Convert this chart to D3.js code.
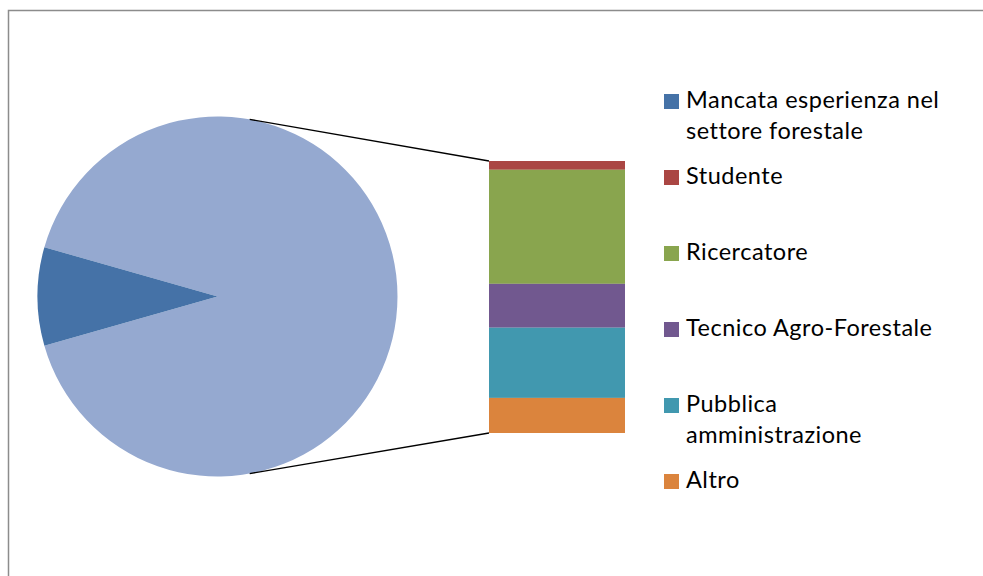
<!DOCTYPE html>
<html>
<head>
<meta charset="utf-8">
<script src="https://cdn.jsdelivr.net/npm/d3@7/dist/d3.min.js"></script>
<style>
  html, body { margin: 0; padding: 0; background: #fff; }
  svg { display: block; }
</style>
</head>
<body>
<svg id="chart" width="983" height="576"></svg>
<script>
// Pie slice shown on its own
const mainCategory = "Mancata esperienza nel settore forestale";
const mainValue = 3;

// Categories grouped into the secondary stacked bar (top to bottom)
const barCategories = ["Studente", "Ricercatore", "Tecnico Agro-Forestale", "Pubblica amministrazione", "Altro"];
const barValues = [1, 13, 5, 8, 4];

// Legend lines (wrapped as drawn)
const legendLines = [
  ["Mancata esperienza nel", "settore forestale"],
  ["Studente"],
  ["Ricercatore"],
  ["Tecnico Agro-Forestale"],
  ["Pubblica", "amministrazione"],
  ["Altro"]
];

const mainColor = "#4572A7";
const groupColor = "#95A9D0";
const barColors = ["#AA4643", "#89A54E", "#71588F", "#4198AF", "#DB843D"];

const svg = d3.select("#chart");

// Chart area border (only top and left edges fall inside the view)
svg.append("rect")
  .attr("x", 8.5).attr("y", 10.5)
  .attr("width", 1200).attr("height", 1000)
  .attr("fill", "none")
  .attr("stroke", "#8c8c8c")
  .attr("stroke-width", 1.5);

// ---- Pie ----
const cx = 217.5, cy = 296.5, r = 180;
const groupTotal = d3.sum(barValues);
const total = groupTotal + mainValue;
const mainSpan = mainValue / total * 2 * Math.PI;
const start = 1.5 * Math.PI + mainSpan / 2;

const pieData = [
  { key: "group", value: groupTotal, color: groupColor },
  { key: "main", value: mainValue, color: mainColor }
];
const pie = d3.pie().sort(null).value(d => d.value)
  .startAngle(start).endAngle(start + 2 * Math.PI);
const arc = d3.arc().innerRadius(0).outerRadius(r);

const gPie = svg.append("g").attr("transform", `translate(${cx},${cy})`);
gPie.selectAll("path")
  .data(pie(pieData))
  .join("path")
  .attr("d", arc)
  .attr("fill", d => d.data.color);

// ---- Stacked bar ----
const barX = d3.scaleBand().domain(["group"]).range([489, 625]).padding(0);
const barY = d3.scaleLinear().domain([0, groupTotal]).range([161, 433]);

let acc = 0;
const stacked = barValues.map((v, i) => {
  const d = { cat: barCategories[i], y0: acc, y1: acc + v, color: barColors[i] };
  acc += v;
  return d;
});

svg.append("g").selectAll("rect")
  .data(stacked)
  .join("rect")
  .attr("x", barX("group"))
  .attr("width", barX.bandwidth())
  .attr("y", d => barY(d.y0))
  .attr("height", d => barY(d.y1) - barY(d.y0))
  .attr("fill", d => d.color);

// ---- Connector lines ----
const connAngle = 10.3 * Math.PI / 180; // offset from vertical
const px = cx + r * Math.sin(connAngle);
const pyTop = cy - r * Math.cos(connAngle);
const pyBot = cy + r * Math.cos(connAngle);
const conn = [
  [[px, pyTop], [barX("group"), barY(0)]],
  [[px, pyBot], [barX("group"), barY(groupTotal)]]
];
svg.append("g").selectAll("line")
  .data(conn)
  .join("line")
  .attr("x1", d => d[0][0]).attr("y1", d => d[0][1])
  .attr("x2", d => d[1][0]).attr("y2", d => d[1][1])
  .attr("stroke", "#000")
  .attr("stroke-width", 1.4);

// ---- Legend ----
const legendColors = [mainColor].concat(barColors);
const legendY = d3.scalePoint().domain(d3.range(legendLines.length)).range([108, 488]);
const legend = svg.append("g")
  .style("font-family", "Lato, 'Open Sans', sans-serif")
  .style("font-size", "23.5px")
  .style("letter-spacing", "0.5px");

legendLines.forEach((lines, i) => {
  const base = legendY(i);
  legend.append("rect")
    .attr("x", 664).attr("y", base - 14)
    .attr("width", 15).attr("height", 15)
    .attr("fill", legendColors[i]);
  const t = legend.append("text")
    .attr("x", 686).attr("y", base)
    .attr("fill", "#000");
  lines.forEach((ln, j) => {
    t.append("tspan")
      .attr("x", 686)
      .attr("y", base + j * 31)
      .text(ln);
  });
});
</script>
</body>
</html>
